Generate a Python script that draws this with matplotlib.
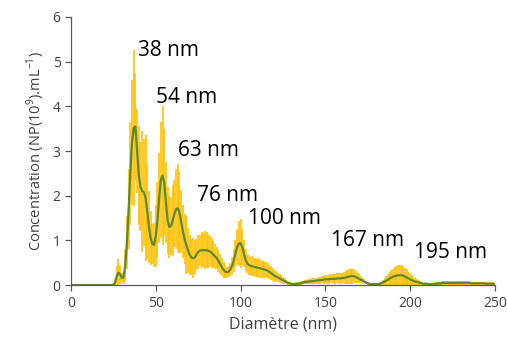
import numpy as np
import matplotlib
matplotlib.use('Agg')
import matplotlib.pyplot as plt

plt.rcParams['font.family'] = ['Open Sans', 'DejaVu Sans']
plt.rcParams['mathtext.fontset'] = 'custom'
plt.rcParams['mathtext.rm'] = 'Open Sans'

# Diamètre (nm), 1 nm bins
diametre = list(range(0, 251))

# Concentration moyenne (10^9 NP/mL)
concentration = [
    0, 0, 0, 0, 0, 0, 0, 0, 0, 0,
    0, 0, 0, 0, 0, 0, 0, 0, 0, 0,
    0, 0, 0, 0, 0, 0.01, 0.06, 0.2, 0.28, 0.24,
    0.16, 0.17, 0.45, 0.95, 1.7, 2.5, 3.2, 3.52, 3.55, 3.0,
    2.45, 2.2, 2.1, 2.08, 1.95, 1.65, 1.3, 1.05, 0.92, 0.9,
    1.1, 1.45, 1.95, 2.35, 2.45, 2.3, 1.85, 1.45, 1.3, 1.32,
    1.45, 1.6, 1.7, 1.72, 1.62, 1.42, 1.2, 1.03, 0.9, 0.78,
    0.68, 0.62, 0.6, 0.62, 0.68, 0.74, 0.77, 0.78, 0.78, 0.78,
    0.78, 0.77, 0.75, 0.72, 0.68, 0.64, 0.6, 0.54, 0.47, 0.4,
    0.34, 0.3, 0.29, 0.3, 0.35, 0.43, 0.55, 0.7, 0.85, 0.93,
    0.94, 0.85, 0.7, 0.56, 0.48, 0.45, 0.43, 0.42, 0.41, 0.4,
    0.39, 0.38, 0.37, 0.36, 0.35, 0.34, 0.32, 0.3, 0.27, 0.24,
    0.21, 0.19, 0.17, 0.15, 0.13, 0.11, 0.09, 0.07, 0.05, 0.04,
    0.03, 0.02, 0.02, 0.03, 0.03, 0.04, 0.05, 0.06, 0.07, 0.07,
    0.08, 0.08, 0.09, 0.09, 0.1, 0.1, 0.11, 0.11, 0.12, 0.12,
    0.13, 0.13, 0.13, 0.14, 0.14, 0.14, 0.14, 0.15, 0.15, 0.15,
    0.16, 0.16, 0.17, 0.18, 0.19, 0.2, 0.2, 0.2, 0.18, 0.16,
    0.14, 0.12, 0.1, 0.08, 0.06, 0.04, 0.03, 0.02, 0.02, 0.02,
    0.02, 0.02, 0.03, 0.04, 0.06, 0.08, 0.1, 0.12, 0.15, 0.17,
    0.19, 0.2, 0.21, 0.22, 0.22, 0.22, 0.21, 0.19, 0.17, 0.15,
    0.13, 0.11, 0.09, 0.08, 0.07, 0.06, 0.05, 0.04, 0.03, 0.03,
    0.03, 0.02, 0.02, 0.02, 0.02, 0.03, 0.03, 0.04, 0.04, 0.05,
    0.05, 0.05, 0.05, 0.05, 0.05, 0.05, 0.05, 0.05, 0.05, 0.05,
    0.05, 0.05, 0.05, 0.05, 0.05, 0.05, 0.04, 0.04, 0.04, 0.04,
    0.04, 0.04, 0.04, 0.04, 0.04, 0.03, 0.03, 0.03, 0.03, 0.03,
    0.02,
]

# Ecart-type
ecart = [
    0, 0, 0, 0, 0, 0, 0, 0, 0, 0,
    0, 0, 0, 0, 0, 0, 0, 0, 0, 0,
    0, 0, 0, 0, 0, 0.02, 0.08, 0.22, 0.3, 0.22,
    0.12, 0.15, 0.35, 0.6, 0.9, 1.15, 1.4, 1.75, 1.2, 0.95,
    1.1, 1.0, 1.35, 1.2, 1.4, 1.05, 0.8, 0.6, 0.45, 0.5,
    0.7, 0.85, 1.0, 1.3, 1.55, 1.2, 0.9, 0.75, 0.7, 0.65,
    0.8, 0.75, 0.9, 1.0, 0.9, 0.7, 0.6, 0.55, 0.65, 0.5,
    0.45, 0.4, 0.45, 0.4, 0.35, 0.38, 0.35, 0.4, 0.38, 0.42,
    0.4, 0.38, 0.35, 0.33, 0.3, 0.28, 0.25, 0.25, 0.22, 0.2,
    0.18, 0.15, 0.12, 0.12, 0.15, 0.2, 0.25, 0.3, 0.4, 0.5,
    0.55, 0.4, 0.3, 0.25, 0.2, 0.22, 0.2, 0.22, 0.2, 0.21,
    0.2, 0.22, 0.2, 0.19, 0.2, 0.18, 0.17, 0.16, 0.15, 0.14,
    0.13, 0.12, 0.11, 0.1, 0.09, 0.08, 0.06, 0.05, 0.04, 0.03,
    0.02, 0.02, 0.02, 0.03, 0.03, 0.03, 0.04, 0.04, 0.05, 0.05,
    0.05, 0.06, 0.06, 0.07, 0.07, 0.07, 0.08, 0.08, 0.08, 0.09,
    0.09, 0.1, 0.1, 0.1, 0.1, 0.11, 0.11, 0.11, 0.12, 0.12,
    0.12, 0.13, 0.14, 0.15, 0.16, 0.17, 0.17, 0.16, 0.14, 0.12,
    0.1, 0.08, 0.07, 0.05, 0.04, 0.03, 0.02, 0.02, 0.02, 0.02,
    0.02, 0.02, 0.03, 0.04, 0.06, 0.08, 0.1, 0.12, 0.14, 0.16,
    0.18, 0.2, 0.21, 0.22, 0.23, 0.22, 0.21, 0.2, 0.18, 0.15,
    0.13, 0.11, 0.09, 0.07, 0.06, 0.05, 0.04, 0.03, 0.02, 0.02,
    0.02, 0.02, 0.02, 0.02, 0.02, 0.03, 0.03, 0.03, 0.04, 0.04,
    0.04, 0.05, 0.05, 0.05, 0.05, 0.05, 0.05, 0.05, 0.05, 0.05,
    0.05, 0.05, 0.05, 0.05, 0.05, 0.05, 0.04, 0.04, 0.04, 0.04,
    0.04, 0.04, 0.04, 0.04, 0.03, 0.03, 0.03, 0.03, 0.03, 0.03,
    0.02,
]

# peak annotations
pics = ['38 nm', '54 nm', '63 nm', '76 nm', '100 nm', '167 nm', '195 nm']
pics_x = [39.5, 50.1, 63.1, 74.3, 104.4, 153.3, 202.2]
pics_y = [5.26, 4.2, 3.02, 2.01, 1.48, 1.0, 0.72]

fig = plt.figure(figsize=(5.07, 3.39), dpi=100)
ax = fig.add_axes([0.14, 0.159, 0.836, 0.791])

ax.errorbar(diametre, concentration, yerr=ecart, fmt='none',
            ecolor='#FFC000', elinewidth=1.2, capsize=0, zorder=2)
ax.plot(diametre, concentration, color='#5B8A2E', linewidth=1.6, zorder=3)

for txt, x, y in zip(pics, pics_x, pics_y):
    ax.text(x, y, txt, fontsize=15, ha='left', va='center', color='black')

ax.set_xlim(0, 250)
ax.set_ylim(0, 6)
ax.set_xticks([0, 50, 100, 150, 200, 250])
ax.set_yticks([0, 1, 2, 3, 4, 5, 6])

ax.set_xlabel('Diamètre (nm)', fontsize=11.5, color='#404040')
ax.set_ylabel(r'Concentration (NP(10$^{9}$).mL$^{-1}$)', fontsize=10.5, color='#404040')

ax.spines['top'].set_visible(False)
ax.spines['right'].set_visible(False)
for s in ['left', 'bottom']:
    ax.spines[s].set_color('#595959')
    ax.spines[s].set_linewidth(0.9)
ax.tick_params(axis='both', direction='out', length=4, width=0.9,
               color='#595959', labelcolor='#404040', labelsize=10)

fig.savefig('out.png', dpi=100)
